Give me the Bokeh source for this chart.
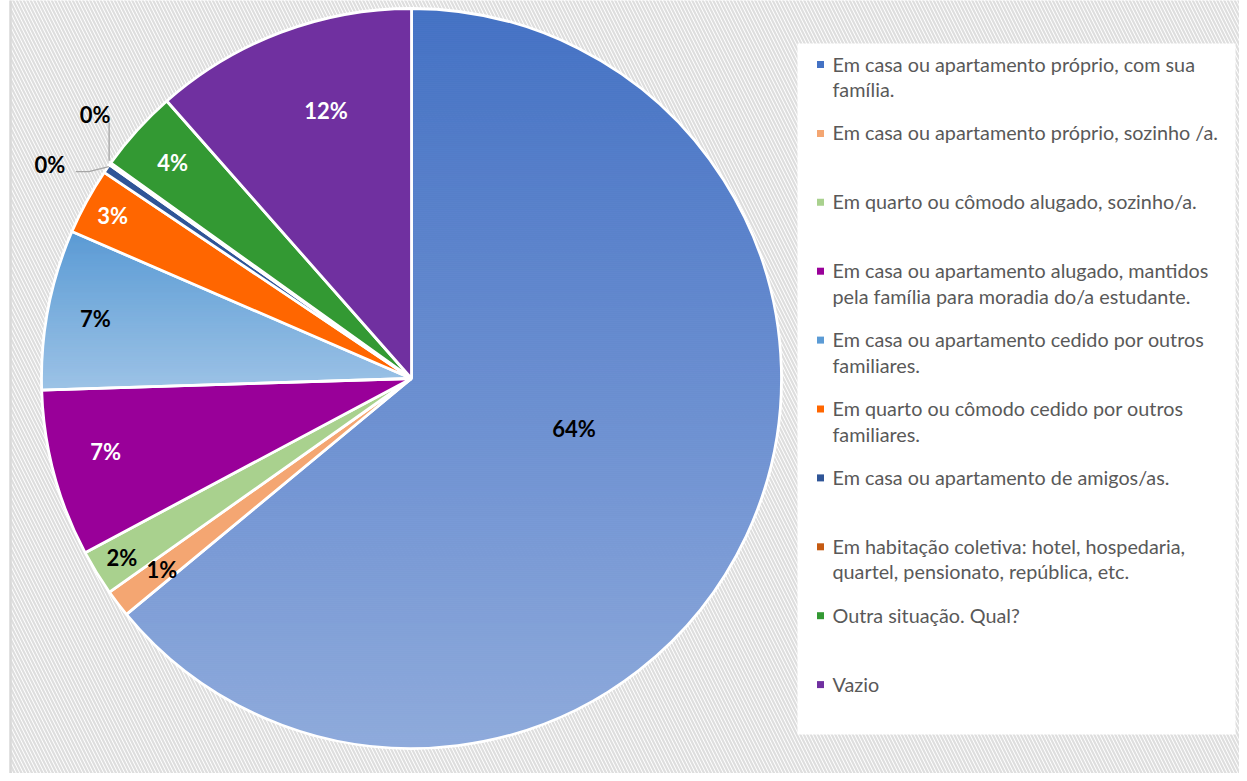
import math
from bokeh.plotting import figure
from bokeh.models import Range1d
from bokeh.core.properties import value
from bokeh.embed import file_html
from bokeh.resources import INLINE

# ---------------- data ----------------
categories = [
    ["Em casa ou apartamento próprio, com sua", "família."],
    ["Em casa ou apartamento próprio, sozinho /a."],
    ["Em quarto ou cômodo alugado, sozinho/a."],
    ["Em casa ou apartamento alugado, mantidos", "pela família para moradia do/a estudante."],
    ["Em casa ou apartamento cedido por outros", "familiares."],
    ["Em quarto ou cômodo cedido por outros", "familiares."],
    ["Em casa ou apartamento de amigos/as."],
    ["Em habitação coletiva: hotel, hospedaria,", "quartel, pensionato, república, etc."],
    ["Outra situação. Qual?"],
    ["Vazio"],
]
shares = [64.0, 1.2, 2.0, 7.3, 7.0, 2.9, 0.4, 0.1, 3.6, 11.5]

# ---------------- styles ----------------
colors = ["#4472C4", "#F4A672", "#A9D18E", "#990099", "#5B9BD5",
          "#FF6600", "#2F5597", "#C55A11", "#339933", "#7030A0"]
grad_bottom = {0: "#8FAADC", 4: "#9DC3E6"}
label_colors = ["black", "black", "black", "white", "black",
                "white", "black", "black", "white", "white"]
label_r = [0.46, 0.85, 0.92, 0.85, 0.87, 0.92, None, None, 0.87, 0.76]
label_dt = [-8, 0, 0, 1.5, 0, 0, 0, 0, 0, 3]

W, H = 1239, 773


def px(x):
    return x


def py(y):
    return H - y


p = figure(width=W, height=H, x_range=Range1d(0, W), y_range=Range1d(0, H),
           output_backend="svg", toolbar_location=None, min_border=0)
p.axis.visible = False
p.grid.visible = False
p.outline_line_color = None
p.background_fill_color = "white"
p.border_fill_color = "white"

# hatched chart background
p.quad(left=[px(10)], right=[W + 5], bottom=[-5], top=[H + 5], fill_color="white",
       line_color=None, hatch_pattern="\\", hatch_color="#DEDEDE",
       hatch_weight=2.2, hatch_scale=7)
p.segment(x0=[px(10)], y0=[-5], x1=[px(10)], y1=[H + 5], line_color="#D9D9D9", line_width=2.5)

CX, CY, R = px(411), py(378), 370.0

total = sum(shares)
bounds = [0.0]
for s in shares:
    bounds.append(bounds[-1] + s / total * 2 * math.pi)


def hex2rgb(h):
    h = h.lstrip("#")
    return tuple(int(h[i:i + 2], 16) for i in (0, 2, 4))


def mix(c1, c2, f):
    a, b = hex2rgb(c1), hex2rgb(c2)
    return "#%02x%02x%02x" % tuple(int(round(a[i] + (b[i] - a[i]) * f)) for i in range(3))


def clip_y(poly, ylo, yhi):
    def clip(pts, keep, edge_y):
        out = []
        n = len(pts)
        for i in range(n):
            cur, prev = pts[i], pts[i - 1]
            cin, pin = keep(cur), keep(prev)
            if cin:
                if not pin:
                    t = (edge_y - prev[1]) / (cur[1] - prev[1])
                    out.append((prev[0] + t * (cur[0] - prev[0]), edge_y))
                out.append(cur)
            elif pin:
                t = (edge_y - prev[1]) / (cur[1] - prev[1])
                out.append((prev[0] + t * (cur[0] - prev[0]), edge_y))
        return out
    pts = clip(poly, lambda q: q[1] >= ylo, ylo)
    if not pts:
        return []
    pts = clip(pts, lambda q: q[1] <= yhi, yhi)
    return pts


# gradient slices drawn as thin horizontal bands
for idx, bot in grad_bottom.items():
    t1, t2 = bounds[idx], bounds[idx + 1]
    n = max(8, int((t2 - t1) * 180))
    poly = [(CX, CY)] + [(CX + R * math.sin(t1 + (t2 - t1) * k / n),
                          CY + R * math.cos(t1 + (t2 - t1) * k / n)) for k in range(n + 1)]
    ys_all = [q[1] for q in poly]
    ymin, ymax = min(ys_all), max(ys_all)
    xs, ys, cs = [], [], []
    step = 2.0
    y = ymin
    while y < ymax:
        band = clip_y(poly, y, min(y + step, ymax))
        if len(band) >= 3:
            xs.append([q[0] for q in band])
            ys.append([q[1] for q in band])
            f = (ymax - (y + step / 2)) / (ymax - ymin)
            cs.append(mix(colors[idx], bot, max(0, min(1, f))))
        y += step
    p.patches(xs=xs, ys=ys, fill_color=cs, line_color=cs, line_width=0.8)

start_a = [math.pi / 2 - bounds[i + 1] for i in range(len(shares))]
end_a = [math.pi / 2 - bounds[i] for i in range(len(shares))]
fill_alpha = [0.0 if i in grad_bottom else 1.0 for i in range(len(shares))]
p.wedge(x=CX, y=CY, radius=R, start_angle=start_a, end_angle=end_a,
        direction="anticlock", fill_color=colors, fill_alpha=fill_alpha,
        line_color="white", line_width=2.8)

# data labels
lx, ly, lt, lc = [], [], [], []
for i, s in enumerate(shares):
    tm = (bounds[i] + bounds[i + 1]) / 2
    txt = "%d%%" % math.floor(s + 0.5)
    if label_r[i] is not None:
        t = tm + math.radians(label_dt[i])
        lx.append(CX + label_r[i] * R * math.sin(t))
        ly.append(CY + label_r[i] * R * math.cos(t))
    else:
        ex, ey = CX + R * math.sin(tm), CY + R * math.cos(tm)
        if i == 6:
            p.line(x=[ex + 2, ex - 18, ex - 31], y=[ey + 2, ey - 3, ey - 3],
                   line_color="#A6A6A6", line_width=1.3)
            lx.append(ex - 57)
            ly.append(ey + 4)
        else:
            p.line(x=[ex - 1, ex - 1], y=[ey + 3, ey + 41], line_color="#A6A6A6", line_width=1.3)
            lx.append(ex - 15)
            ly.append(ey + 49)
    lt.append(txt)
    lc.append(label_colors[i])
p.text(x=lx, y=ly, text=lt, text_color=lc, text_font=value("Lato"),
       text_font_style="bold", text_font_size="22px", text_align="center",
       text_baseline="middle")

# legend box
p.quad(left=[px(797)], right=[px(1235)], bottom=[py(734)], top=[py(43)],
       fill_color="white", line_color=None)
mx, my, tx, ty, tt = [], [], [], [], []
for i, lines in enumerate(categories):
    y0 = 63 + 68.9 * i
    mx.append(px(820))
    my.append(py(y0 + 1))
    for j, line in enumerate(lines):
        tx.append(px(832))
        ty.append(py(y0 + 25.5 * j))
        tt.append(line)
p.scatter(x=mx, y=my, marker="square", size=7, fill_color=colors, line_color=None)
p.text(x=tx, y=ty, text=tt, text_color="#595959", text_font=value("Lato"),
       text_font_size="19.8px", text_align="left", text_baseline="middle")

open("out.html", "w").write(file_html(p, INLINE))
